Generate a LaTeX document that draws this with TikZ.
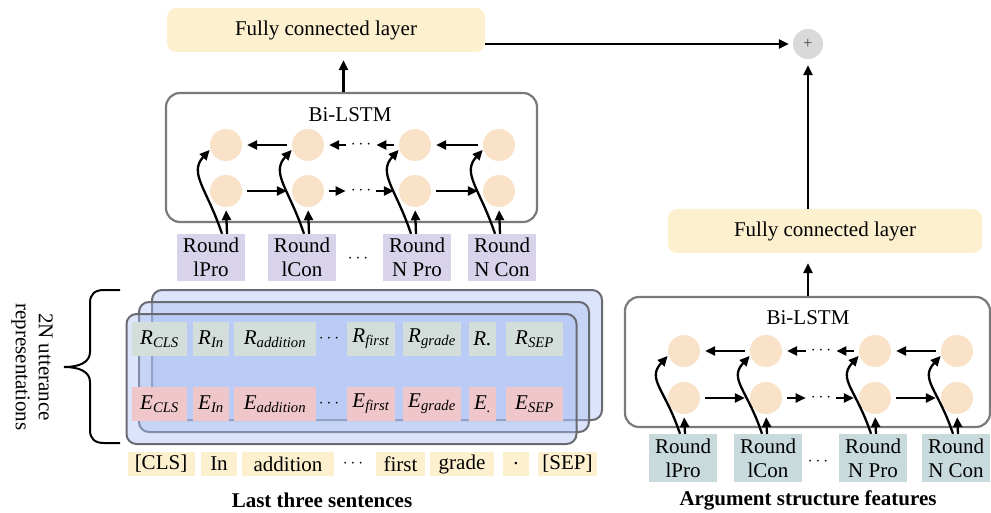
\documentclass[tikz,border=0pt]{standalone}
\usepackage{fontspec}
\setmainfont{Liberation Serif}
\usetikzlibrary{arrows.meta,calc}
\definecolor{fcyellow}{HTML}{FCF0CF}
\definecolor{cellc}{HTML}{F9E2C8}
\definecolor{lavc}{HTML}{D8D3EA}
\definecolor{argc}{HTML}{C8DADC}
\definecolor{rboxc}{HTML}{D3DEDB}
\definecolor{eboxc}{HTML}{EFC6C9}
\definecolor{stackc}{HTML}{A9BEF2}
\definecolor{stackline}{HTML}{6A6A72}
\definecolor{framec}{HTML}{7A7A7A}
\definecolor{plusc}{HTML}{D9D9D9}
\begin{document}
\begin{tikzpicture}[x=1pt,y=-1pt,
  font=\fontsize{21}{24}\selectfont,
  arr/.style={line width=2.3pt,-{Triangle[length=10pt,width=9pt]}},
  sh/.style={shorten >=5pt,shorten <=5pt},
  fcbox/.style={fill=fcyellow,rounded corners=9pt,inner sep=0pt,minimum height=44pt},
  lstmbox/.style={draw=framec,line width=2.2pt,rounded corners=14pt,inner sep=0pt},
  cell/.style={circle,fill=cellc,minimum size=32pt,inner sep=0pt},
  dotsn/.style={inner sep=0pt,font=\fontsize{19}{19}\selectfont},
  inbox/.style={align=center,inner sep=0pt,minimum width=68pt,minimum height=47pt},
  stack/.style={draw=stackline,line width=2pt,fill=stackc,fill opacity=0.42,rounded corners=10pt,inner sep=0pt,minimum width=450pt,minimum height=130pt},
  rb/.style={fill=rboxc,inner sep=0pt,minimum height=34pt},
  eb/.style={fill=eboxc,inner sep=0pt,minimum height=34pt},
  tk/.style={fill=fcyellow,inner sep=0pt,minimum height=24pt},
  lbl/.style={font=\fontsize{21}{24}\selectfont\bfseries}
]
\useasboundingbox (0,0) rectangle (991,513);

% ---------- top fully connected + plus ----------
\node[fcbox,minimum width=318pt] (fcL) at (326,30) {Fully connected layer};
\node[circle,fill=plusc,minimum size=30pt,inner sep=0pt,font=\fontsize{16}{16}\selectfont,text=black!75] (plus) at (808,44) {+};

% ---------- left Bi-LSTM ----------
\node[lstmbox,minimum width=371pt,minimum height=129pt] (bilL) at (351.5,157.5) {};
\node (tL) at (350,115) {Bi-LSTM};
\foreach \i/\x in {1/226,2/308,3/415,4/499}{
  \node[cell] (La\i) at (\x,145) {};
  \node[cell] (Lb\i) at (\x,191) {};
}
\node[dotsn] (Ldt) at (361,145) {$\cdots$};
\node[dotsn] (Ldb) at (361,191) {$\cdots$};
\draw[arr,sh] (La2) -- (La1);
\draw[arr,sh] (Ldt) -- (La2);
\draw[arr,sh] (La3) -- (Ldt);
\draw[arr,sh] (La4) -- (La3);
\draw[arr,sh] (Lb1) -- (Lb2);
\draw[arr,sh] (Lb2) -- (Ldb);
\draw[arr,sh] (Ldb) -- (Lb3);
\draw[arr,sh] (Lb3) -- (Lb4);

\node[inbox,fill=lavc] (Li1) at (211,257.5) {Round\\lPro};
\node[inbox,fill=lavc] (Li2) at (302,257.5) {Round\\lCon};
\node[inbox,fill=lavc] (Li3) at (417,257.5) {Round\\N Pro};
\node[inbox,fill=lavc] (Li4) at (502,257.5) {Round\\N Con};
\node[dotsn] (Lid) at (358,259) {$\cdots$};

\foreach \i in {1,2,3,4}{
  \draw[arr,shorten >=3pt] ($(Li\i.north -| Lb\i)+(1,0)$) -- (Lb\i.south);
  \draw[arr,shorten >=1pt] ($(Li\i.north -| Lb\i)+(-4,0)$) .. controls +(-15,-45) and +(-22,24) .. (La\i.195);
}
\draw[arr,shorten >=8pt] ($(bilL.north)+(-8,0)$) -- ($(bilL.north |- fcL.south)+(-8,0)$);
\draw[arr,shorten >=4pt] (fcL.east |- plus) -- (plus.west);

% ---------- left stack ----------
\node[stack] (st3) at (377,355) {};
\node[stack] (st2) at (364,367) {};
\node[stack] (st1) at (351.5,379) {};

\node[rb,minimum width=55pt] (r1) at (159.5,339) {\itshape R\textsubscript{CLS}};
\node[rb,minimum width=36pt] (r2) at (211,339) {\itshape R\textsubscript{In}};
\node[rb,minimum width=82pt] (r3) at (275,339) {\itshape R\textsubscript{addition}};
\node[dotsn] (rd) at (329,339) {$\cdots$};
\node[rb,minimum width=48pt] (r4) at (371,339) {\itshape R\textsubscript{first}};
\node[rb,minimum width=58pt] (r5) at (432,339) {\itshape R\textsubscript{grade}};
\node[rb,minimum width=27pt] (r6) at (482.5,339) {\itshape R.};
\node[rb,minimum width=57pt] (r7) at (534.5,339) {\itshape R\textsubscript{SEP}};

\node[eb,minimum width=55pt] (e1) at (159.5,404) {\itshape E\textsubscript{CLS}};
\node[eb,minimum width=36pt] (e2) at (211,404) {\itshape E\textsubscript{In}};
\node[eb,minimum width=82pt] (e3) at (275,404) {\itshape E\textsubscript{addition}};
\node[dotsn] (ed) at (329,404) {$\cdots$};
\node[eb,minimum width=48pt] (e4) at (371,404) {\itshape E\textsubscript{first}};
\node[eb,minimum width=58pt] (e5) at (432,404) {\itshape E\textsubscript{grade}};
\node[eb,minimum width=27pt] (e6) at (482.5,404) {\itshape E\textsubscript{.}};
\node[eb,minimum width=57pt] (e7) at (534.5,404) {\itshape E\textsubscript{SEP}};

\node[tk,minimum width=67pt] (k1) at (161,464) {[CLS]};
\node[tk,minimum width=36pt] (k2) at (219,464) {In};
\node[tk,minimum width=92pt] (k3) at (288,464) {addition};
\node[dotsn] (kd) at (353,464) {$\cdots$};
\node[tk,minimum width=49pt] (k4) at (400.5,464) {first};
\node[tk,minimum width=64pt] (k5) at (462,464) {grade};
\node[tk,minimum width=26pt] (k6) at (516,464) {.};
\node[tk,minimum width=59pt] (k7) at (567.5,464) {[SEP]};

% brace and its label
\draw[line width=2pt] (120,290) -- (104,290) .. controls (95,290) and (90,294) .. (90,303) -- (90,352) .. controls (90,362) and (80,367) .. (64,367) .. controls (80,367) and (90,372) .. (90,382) -- (90,430) .. controls (90,439) and (95,443) .. (104,443) -- (120,443);
\node[rotate=-90,align=center,font=\fontsize{21}{23}\selectfont] (brl) at (32,367) {2N utterance\\representations};

\node[lbl] (capL) at (322,500) {Last three sentences};

% ---------- right branch ----------
\node[fcbox,minimum width=314pt] (fcR) at (825,231) {Fully connected layer};
\node[lstmbox,minimum width=365pt,minimum height=130pt] (bilR) at (807.5,362) {};
\node (tR) at (808,318) {Bi-LSTM};
\foreach \i/\x in {1/684,2/766,3/875,4/957}{
  \node[cell] (Ra\i) at (\x,351) {};
  \node[cell] (Rb\i) at (\x,398) {};
}
\node[dotsn] (Rdt) at (821,351) {$\cdots$};
\node[dotsn] (Rdb) at (821,398) {$\cdots$};
\draw[arr,sh] (Ra2) -- (Ra1);
\draw[arr,sh] (Rdt) -- (Ra2);
\draw[arr,sh] (Ra3) -- (Rdt);
\draw[arr,sh] (Ra4) -- (Ra3);
\draw[arr,sh] (Rb1) -- (Rb2);
\draw[arr,sh] (Rb2) -- (Rdb);
\draw[arr,sh] (Rdb) -- (Rb3);
\draw[arr,sh] (Rb3) -- (Rb4);

\node[inbox,fill=argc,minimum height=48pt] (Ri1) at (683,458) {Round\\lPro};
\node[inbox,fill=argc,minimum height=48pt] (Ri2) at (768,458) {Round\\lCon};
\node[inbox,fill=argc,minimum height=48pt] (Ri3) at (873,458) {Round\\N Pro};
\node[inbox,fill=argc,minimum height=48pt] (Ri4) at (956,458) {Round\\N Con};
\node[dotsn] (Rid) at (818,462) {$\cdots$};

\foreach \i in {1,2,3,4}{
  \draw[arr,shorten >=3pt] ($(Ri\i.north -| Rb\i)+(1,0)$) -- (Rb\i.south);
  \draw[arr,shorten >=1pt] ($(Ri\i.north -| Rb\i)+(-4,0)$) .. controls +(-15,-45) and +(-22,24) .. (Ra\i.195);
}
\draw[arr,shorten >=10pt] (bilR.north -| plus) -- (fcR.south -| plus);
\draw[arr,shorten >=6pt] (fcR.north -| plus) -- (plus.south);

\node[lbl] (capR) at (808,500) {Argument structure features};
\end{tikzpicture}
\end{document}
